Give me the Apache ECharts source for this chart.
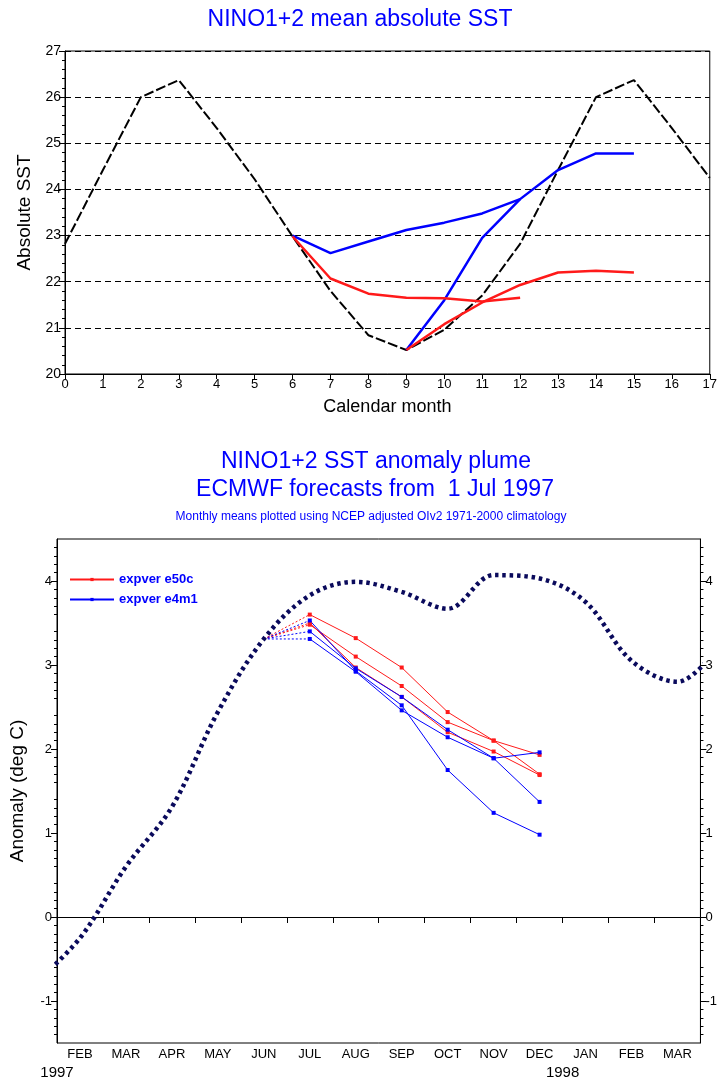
<!DOCTYPE html>
<html><head><meta charset="utf-8">
<script src="https://cdn.jsdelivr.net/npm/echarts@6/dist/echarts.min.js"></script>
<style>html,body{margin:0;padding:0;background:#fff}#c{width:720px;height:1083px}</style>
</head><body><div id="c"></div>
<script>
// ---------- top panel: mean absolute SST ----------
const calMonths   = [0,1,2,3,4,5,6,7,8,9,10,11,12,13,14,15,16,17];
const climSST     = [22.82,24.42,26.0,26.37,25.33,24.22,22.98,21.8,20.84,20.52,20.96,21.7,22.82,24.42,26.0,26.37,25.33,24.25];
const julStartMonths = [6,7,8,9,10,11,12];
const octStartMonths = [9,10,11,12,13,14,15];
const blueJulSST  = [23.0,22.62,22.87,23.12,23.28,23.48,23.79];
const blueOctSST  = [20.52,21.6,22.95,23.79,24.42,24.78,24.78];
const redJulSST   = [22.98,22.07,21.74,21.65,21.64,21.57,21.65];
const redOctSST   = [20.52,21.08,21.55,21.93,22.2,22.24,22.2];

// ---------- bottom panel: anomaly plume ----------
const monthLabels = ['FEB','MAR','APR','MAY','JUN','JUL','AUG','SEP','OCT','NOV','DEC','JAN','FEB','MAR'];
const yearLabels  = {1:'1997', 12:'1998'};
const obsTime     = [0.5,1.5,2.5,3.5,4.5,5.5,6.5,7.5,8.5,9.5,10.5,11.5,12.5,13.5,14.5,15.5];
const obsAnom     = [-0.8,-0.25,0.6,1.31,2.44,3.31,3.83,3.99,3.87,3.67,4.07,4.03,3.75,3.05,2.8,3.3];
const fcTime      = [6.5,7.5,8.5,9.5,10.5,11.5];   // Jul..Dec forecast months
const fcStartTime = 5.5;                           // observed June value
const e50cMember1 = [3.60,3.32,2.97,2.44,2.10,1.70];
const e50cMember2 = [3.48,3.10,2.75,2.32,2.10,1.93];
const e50cMember3 = [3.50,2.97,2.62,2.20,1.97,1.69];
const e4m1Member1 = [3.53,2.93,2.52,1.75,1.24,0.98];
const e4m1Member2 = [3.40,2.96,2.62,2.23,1.89,1.37];
const e4m1Member3 = [3.31,2.92,2.46,2.14,1.89,1.96];
const anomTicks   = [-1,0,1,2,3,4];

const FONT = '"Liberation Sans", Arial, sans-serif';
const RED = '#ff1a1a', BLUE = '#0000ff', NAVY = '#0a0a5c';

function pairs(xs, ys){ return xs.map((x,i)=>[x, ys[i]]); }

const series = [];
// top panel
series.push({type:'line', xAxisIndex:0, yAxisIndex:0, data:pairs(calMonths, climSST), symbol:'none',
  lineStyle:{color:'#000', width:2, type:[10,3]}, z:3, silent:true});
series.push({type:'line', xAxisIndex:0, yAxisIndex:0, data:pairs(julStartMonths, blueJulSST), symbol:'none',
  lineStyle:{color:BLUE, width:2.5}, z:4, silent:true});
series.push({type:'line', xAxisIndex:0, yAxisIndex:0, data:pairs(octStartMonths, blueOctSST), symbol:'none',
  lineStyle:{color:BLUE, width:2.5}, z:4, silent:true});
series.push({type:'line', xAxisIndex:0, yAxisIndex:0, data:pairs(julStartMonths, redJulSST), symbol:'none',
  lineStyle:{color:RED, width:2.5}, z:4, silent:true});
series.push({type:'line', xAxisIndex:0, yAxisIndex:0, data:pairs(octStartMonths, redOctSST), symbol:'none',
  lineStyle:{color:RED, width:2.5}, z:4, silent:true});

// bottom panel: observed
series.push({type:'line', name:'observed', xAxisIndex:1, yAxisIndex:1, data:pairs(obsTime, obsAnom),
  smooth:0.35, symbol:'none', clip:true,
  lineStyle:{color:NAVY, width:4.5, type:[3.5,3.8], cap:'butt'}, z:5, silent:true,
  markLine:{silent:true, symbol:'none', label:{show:false}, animation:false,
    lineStyle:{color:'#000', type:'solid', width:1}, data:[{yAxis:0}]}});

function addMembers(name, color, members){
  members.forEach(m=>{
    series.push({type:'line', name:name, xAxisIndex:1, yAxisIndex:1, data:pairs(fcTime, m),
      symbol:'rect', symbolSize:4, showSymbol:true, itemStyle:{color:color},
      lineStyle:{color:color, width:1}, z:4, silent:true});
  });
  members.forEach(m=>{
    series.push({type:'line', name:name, xAxisIndex:1, yAxisIndex:1,
      data:[[fcStartTime, obsAnom[5]],[fcTime[0], m[0]]],
      symbol:'none', itemStyle:{color:color},
      lineStyle:{color:color, width:1, type:[2,2]}, z:4, silent:true});
  });
}
addMembers('expver e50c', RED, [e50cMember1, e50cMember2, e50cMember3]);
addMembers('expver e4m1', BLUE, [e4m1Member1, e4m1Member2, e4m1Member3]);

const axisLineBlack = {show:true, lineStyle:{color:'#000', width:1}};

function anomAxis(pos){
  return {type:'value', gridIndex:1, position:pos, min:-1.5, max:4.5, interval:0.5,
    axisLine:axisLineBlack,
    axisTick:{show:true, length:6, inside:false, customValues:anomTicks, lineStyle:{color:'#000'}},
    minorTick:{show:true, splitNumber:5, length:3, lineStyle:{color:'#000'}},
    axisLabel:{customValues:anomTicks, color:'#000', fontSize:13, fontFamily:FONT, margin:5,
      formatter:v=> (Math.abs(v-Math.round(v))<1e-6 ? String(Math.round(v)) : '')},
    splitLine:{show:false},
    name: pos==='left' ? 'Anomaly (deg C)' : '', nameLocation:'middle', nameGap:30, nameRotate:90,
    nameTextStyle:{color:'#000', fontSize:19, fontFamily:FONT}};
}

const option = {
  animation:false,
  backgroundColor:'#fff',
  grid:[
    {left:65, top:51, width:646, height:323, show:true, borderColor:'#000', borderWidth:1, backgroundColor:'transparent'},
    {left:55, top:539, width:648, height:504, show:true, borderColor:'#000', borderWidth:1, backgroundColor:'transparent'}
  ],
  legend:{left:64, top:568, orient:'vertical', itemWidth:44, itemHeight:4, itemGap:7,
    data:['expver e50c','expver e4m1'], selectedMode:false,
    textStyle:{color:BLUE, fontSize:13, fontFamily:FONT, fontWeight:'bold'}},
  xAxis:[
    {type:'value', gridIndex:0, min:0, max:17, interval:1,
      axisLine:axisLineBlack, axisTick:{show:true, length:5, lineStyle:{color:'#000'}},
      axisLabel:{color:'#000', fontSize:13, fontFamily:FONT, margin:4},
      splitLine:{show:false},
      name:'Calendar month', nameLocation:'middle', nameGap:24,
      nameTextStyle:{color:'#000', fontSize:18, fontFamily:FONT}},
    {type:'value', gridIndex:1, min:1, max:15, interval:1,
      axisLine:axisLineBlack, axisTick:{show:true, length:6, lineStyle:{color:'#000'}},
      axisLabel:{color:'#000', fontSize:15, fontFamily:FONT, margin:22, showMinLabel:true,
        formatter:v=> yearLabels[v] || ''},
      splitLine:{show:false}},
    {type:'category', gridIndex:1, data:monthLabels, boundaryGap:true, position:'bottom',
      axisLine:{show:false}, axisTick:{show:false},
      axisLabel:{color:'#000', fontSize:13, fontFamily:FONT, margin:5, interval:0},
      splitLine:{show:false}}
  ],
  yAxis:[
    {type:'value', gridIndex:0, min:20, max:27, interval:1,
      axisLine:axisLineBlack,
      axisTick:{show:true, length:6, lineStyle:{color:'#000'}},
      minorTick:{show:true, splitNumber:5, length:3, lineStyle:{color:'#000'}},
      axisLabel:{color:'#000', fontSize:14, fontFamily:FONT, margin:4},
      splitLine:{show:true, lineStyle:{color:'#000', width:1, type:[6,4]}},
      name:'Absolute SST', nameLocation:'middle', nameGap:26, nameRotate:90,
      nameTextStyle:{color:'#000', fontSize:19, fontFamily:FONT}},
    anomAxis('left'),
    anomAxis('right')
  ],
  graphic:[
    {type:'text', left:'center', top:8, silent:true, style:{text:'NINO1+2 mean absolute SST', fill:BLUE, font:'23px '+FONT}},
    {type:'text', x:376, y:462, silent:true, style:{text:'NINO1+2 SST anomaly plume', fill:BLUE, font:'23px '+FONT, textAlign:'center', textVerticalAlign:'middle', align:'center', verticalAlign:'middle'}},
    {type:'text', x:375, y:490, silent:true, style:{text:'ECMWF forecasts from  1 Jul 1997', fill:BLUE, font:'23px '+FONT, textAlign:'center', textVerticalAlign:'middle', align:'center', verticalAlign:'middle'}},
    {type:'text', x:371, y:517, silent:true, style:{text:'Monthly means plotted using NCEP adjusted OIv2 1971-2000 climatology', fill:BLUE, font:'12px '+FONT, textAlign:'center', textVerticalAlign:'middle', align:'center', verticalAlign:'middle'}}
  ],
  series:series
};

const chart = echarts.init(document.getElementById('c'), null, {renderer:'canvas'});
chart.setOption(option);
</script>
</body></html>
